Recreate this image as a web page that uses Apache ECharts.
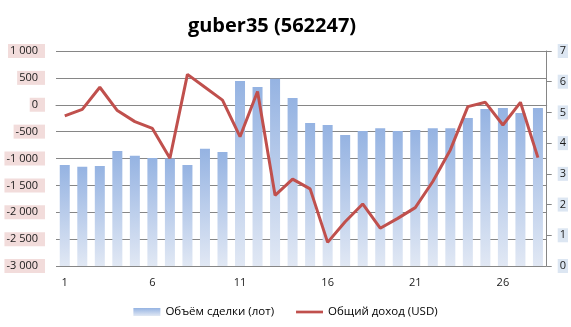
<!DOCTYPE html>
<html><head><meta charset="utf-8">
<script src="https://cdn.jsdelivr.net/npm/echarts@6/dist/echarts.min.js"></script>
<style>html,body{margin:0;padding:0;background:#fff}#c{width:571px;height:327px}</style>
</head><body><div id="c"></div>
<script>
const titleText = 'guber35 (562247)';
const categories = ['1','2','3','4','5','6','7','8','9','10','11','12','13','14','15','16','17','18','19','20','21','22','23','24','25','26','27','28'];
const volume = [-1120,-1155,-1140,-860,-950,-990,-1000,-1120,-820,-880,440,330,485,125,-340,-375,-565,-490,-435,-490,-470,-435,-435,-245,-80,-60,-155,-60];
const income = [4.89,5.10,5.82,5.06,4.70,4.48,3.51,6.24,5.82,5.40,4.21,5.68,2.30,2.83,2.51,0.77,1.44,2.02,1.23,1.55,1.90,2.75,3.78,5.19,5.33,4.59,5.33,3.53];
const seriesNames = ['Объём сделки (лот)', 'Общий доход (USD)'];
const leftMin = -3000, leftMax = 1000, leftStep = 500;
const rightMin = 0, rightMax = 7, rightStep = 1;

const FONT = '"Open Sans", "DejaVu Sans", sans-serif';
function fmtThousands(v){
  const s = Math.abs(v).toString().replace(/\B(?=(\d{3})+(?!\d))/g, ' ');
  return (v < 0 ? '-' : '') + s;
}
const chart = echarts.init(document.getElementById('c'), null, {renderer:'canvas'});
chart.setOption({
  animation:false,
  backgroundColor:'#fff',
  title:{text:titleText, left:267, textAlign:'center', top:11,
    textStyle:{fontFamily:FONT, fontWeight:'bold', fontSize:20, color:'#000'}},
  grid:{left:56, right:23, top:51, bottom:61},
  legend:{bottom:4, left:'center', itemWidth:27, itemHeight:8, itemGap:22, symbolKeepAspect:true,
    textStyle:{fontFamily:FONT, fontSize:11.5, color:'#000'},
    data:[{name:seriesNames[0], icon:'rect'},
          {name:seriesNames[1], icon:'path://M0 0H30V3H0Z', itemStyle:{color:'#c0504d'}}]},
  xAxis:{type:'category', data:categories, boundaryGap:true,
    axisLine:{lineStyle:{color:'#868686'}}, axisTick:{show:false},
    axisLabel:{interval:4, margin:11, fontFamily:FONT, fontSize:11, color:'#1a1a1a'}},
  yAxis:[
    {type:'value', min:leftMin, max:leftMax, interval:leftStep, position:'left',
      axisLine:{show:false}, axisTick:{show:false},
      splitLine:{lineStyle:{color:'#868686', width:1}},
      axisLabel:{margin:11, fontFamily:FONT, fontSize:11, color:'#1a1a1a',
        backgroundColor:'#f2dcdb', padding:[2,7,1,2], formatter:fmtThousands}},
    {type:'value', min:rightMin, max:rightMax, interval:rightStep, position:'right',
      axisLine:{show:true, lineStyle:{color:'#868686'}}, axisTick:{show:true, length:5, lineStyle:{color:'#868686'}},
      splitLine:{show:false},
      axisLabel:{margin:11, fontFamily:FONT, fontSize:11, color:'#1a1a1a',
        backgroundColor:'#dce6f2', padding:[2,2,1,2]}},
    {type:'value', min:0, max:leftMax-leftMin, show:false, splitLine:{show:false}}
  ],
  series:[
    {name:seriesNames[0], type:'bar', yAxisIndex:2, barWidth:10,
      data:volume.map(v => v - leftMin),
      itemStyle:{color:new echarts.graphic.LinearGradient(0,0,0,1,[
        {offset:0, color:'#95b3e2'},{offset:1, color:'#e1e8f4'}])}},
    {name:seriesNames[1], type:'line', yAxisIndex:1, data:income, symbol:'none',
      lineStyle:{color:'#c0504d', width:3}, itemStyle:{color:'#c0504d'}, z:5}
  ]
});
</script></body></html>
